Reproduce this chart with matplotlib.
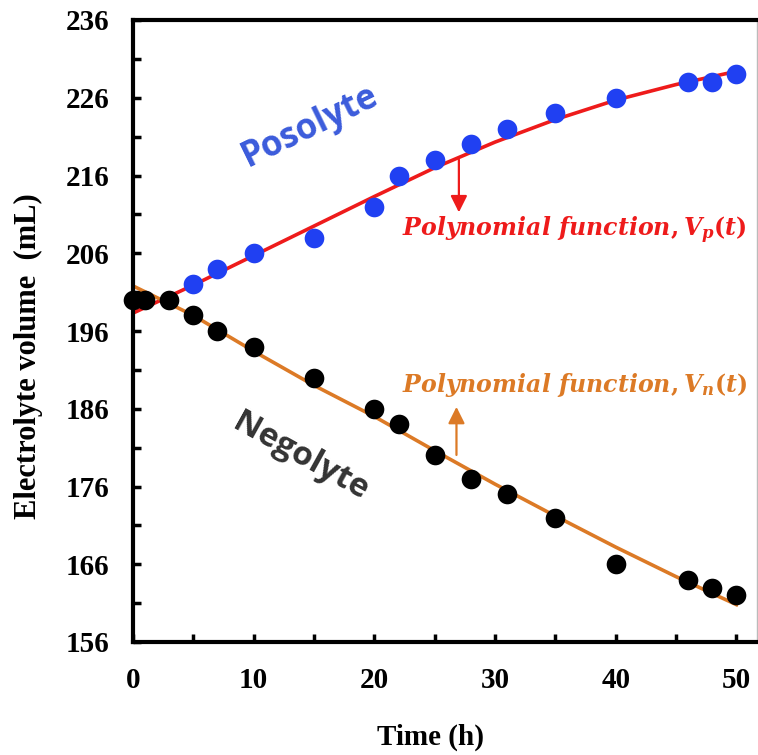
import matplotlib
matplotlib.use("Agg")
import matplotlib.pyplot as plt
import numpy as np

# ---- data ----
time_pos = [5, 7, 10, 15, 20, 22, 25, 28, 31, 35, 40, 46, 48, 50]
vol_pos = [202, 204, 206, 208, 212, 216, 218, 220, 222, 224, 226, 228, 228, 229]

time_neg = [0, 1, 3, 5, 7, 10, 15, 20, 22, 25, 28, 31, 35, 40, 46, 48, 50]
vol_neg = [200, 200, 200, 198, 196, 194, 190, 186, 184, 180, 177, 175, 172, 166, 164, 163, 162]

# fitted polynomial curves
fit_t = [0, 5, 10, 15, 20, 25, 30, 35, 40, 45, 50]
fit_pos = [198.3, 201.9, 205.7, 209.5, 213.3, 217.0, 220.3, 223.2, 225.7, 227.7, 229.4]
fit_neg = [201.8, 198.0, 193.4, 189.0, 185.0, 180.6, 176.3, 172.2, 168.2, 164.4, 160.8]

y_ticks = [156, 166, 176, 186, 196, 206, 216, 226, 236]
x_ticks = [0, 10, 20, 30, 40, 50]

plt.rcParams['mathtext.fontset'] = 'custom'
plt.rcParams['mathtext.it'] = 'DejaVu Serif:italic:bold'
plt.rcParams['mathtext.rm'] = 'DejaVu Serif:bold'
plt.rcParams['mathtext.bf'] = 'DejaVu Serif:bold'

fig = plt.figure(figsize=(7.58, 7.55), dpi=100)
ax = fig.add_axes([133/758, 113/755, 624/758, 622/755])

blue = '#2040F2'
red = '#EE1B1B'
orange = '#DC7A26'

ax.plot(fit_t, fit_pos, color=red, lw=2.6, zorder=2)
ax.plot(fit_t, fit_neg, color=orange, lw=2.6, zorder=2)
ax.scatter(time_pos, vol_pos, s=200, color=blue, zorder=3, clip_on=False, linewidths=0)
ax.scatter(time_neg, vol_neg, s=200, color='black', zorder=3, clip_on=False, linewidths=0)

ax.set_xlim(0, 51.7)
ax.set_ylim(156, 236)
ax.set_xticks(x_ticks)
ax.set_yticks(y_ticks)
ax.set_xticks(np.arange(5, 50, 10), minor=True)
ax.set_yticks(np.arange(161, 236, 10), minor=True)

tick_font = dict(family='Liberation Serif', weight='bold', size=21)
ax.set_xticklabels([str(v) for v in x_ticks], **tick_font)
ax.set_yticklabels([str(v) for v in y_ticks], **tick_font)
ax.tick_params(which='both', direction='in', width=2.5, length=6, color='black')
ax.tick_params(axis='y', which='major', pad=17)
ax.tick_params(axis='x', which='major', pad=18)

for side in ['left', 'bottom', 'top']:
    ax.spines[side].set_linewidth(3)
    ax.spines[side].set_color('black')
ax.spines['right'].set_linewidth(1)
ax.spines['right'].set_color('#BBBBBB')

ax.set_xlabel('Time (h)', family='Liberation Serif', weight='bold', size=21, va='center')
ax.xaxis.set_label_coords(0.476, -0.153)
ax.set_ylabel('Electrolyte volume  (mL)', family='Liberation Serif', weight='bold', size=22, va='center')
ax.yaxis.set_label_coords(-0.168, 0.46)

ax.text(14.7, 222.3, 'Posolyte', color='#3B5BDB', family='Open Sans', weight='bold',
        size=25, rotation=26, ha='center', va='center')
ax.text(13.9, 179.8, 'Negolyte', color='#333333', family='Open Sans', weight='bold',
        size=24, rotation=-29, ha='center', va='center')

ax.annotate('', xy=(27.0, 210.9), xytext=(27.0, 218.4),
            arrowprops=dict(arrowstyle='-|>,head_length=1.0,head_width=0.5', color=red, lw=1.6))
ax.annotate('', xy=(26.8, 186.6), xytext=(26.8, 179.7),
            arrowprops=dict(arrowstyle='-|>,head_length=1.0,head_width=0.5', color=orange, lw=1.6))

ax.text(22.3, 208.9, r'$Polynomial\ function,V_p(t)$', color=red, size=17, ha='left', va='center')
ax.text(22.3, 189.1, r'$Polynomial\ function,V_n(t)$', color=orange, size=17, ha='left', va='center')

fig.savefig('out.png', dpi=100)
